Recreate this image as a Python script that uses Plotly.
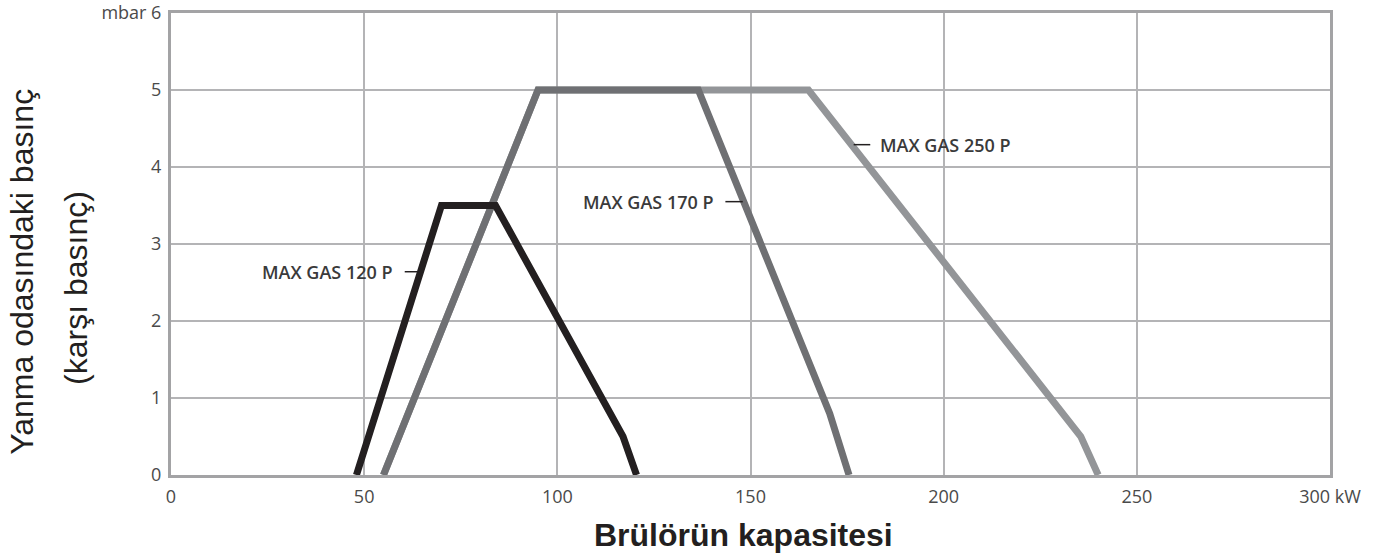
import plotly.graph_objects as go

# data
x_120 = [48, 70, 84, 117, 120.5]
y_120 = [0, 3.5, 3.5, 0.5, 0]
x_170 = [55, 95, 136.5, 170.5, 175.5]
y_170 = [0, 5, 5, 0.8, 0]
x_250 = [55, 95, 165, 235.5, 240]
y_250 = [0, 5, 5, 0.5, 0]

x_ticks = [0, 50, 100, 150, 200, 250, 300]
x_ticktext = ["0", "50", "100", "150", "200", "250", "300 kW"]
y_ticks = [0, 1, 2, 3, 4, 5, 6]
y_ticktext = ["0", "1", "2", "3", "4", "5", "mbar 6"]

labels = ["MAX GAS 120 P", "MAX GAS 170 P", "MAX GAS 250 P"]

fig = go.Figure()
fig.add_trace(go.Scatter(x=x_250, y=y_250, mode="lines",
                         line=dict(color="#939598", width=7), name=labels[2]))
fig.add_trace(go.Scatter(x=x_170, y=y_170, mode="lines",
                         line=dict(color="#6f7073", width=7), name=labels[1]))
fig.add_trace(go.Scatter(x=x_120, y=y_120, mode="lines",
                         line=dict(color="#231f20", width=7), name=labels[0]))

lab_font = dict(family="Open Sans", size=18, color="#3a3a3a", weight=600)
# label 120
fig.add_annotation(x=58, y=2.64, text=labels[0], showarrow=False, xanchor="right",
                   font=lab_font)
fig.add_shape(type="line", x0=60.5, x1=64, y0=2.64, y1=2.64, line=dict(color="#231f20", width=1.5))
# label 170
fig.add_annotation(x=141, y=3.55, text=labels[1], showarrow=False, xanchor="right",
                   font=lab_font)
fig.add_shape(type="line", x0=143.5, x1=148, y0=3.55, y1=3.55, line=dict(color="#231f20", width=1.5))
# label 250
fig.add_annotation(x=183, y=4.29, text=labels[2], showarrow=False, xanchor="left",
                   font=lab_font)
fig.add_shape(type="line", x0=176.7, x1=181, y0=4.29, y1=4.29, line=dict(color="#231f20", width=1.5))

title_font = dict(family="Liberation Sans", size=32, color="#231f20")
# y-axis title (two lines)
fig.add_annotation(xref="paper", yref="paper", x=(22 - 171) / 1159, y=0.44,
                   text="Yanma odasındaki basınç", textangle=-90, showarrow=False,
                   xanchor="center", yanchor="middle", font=title_font)
fig.add_annotation(xref="paper", yref="paper", x=(76 - 171) / 1159, y=0.405,
                   text="(karşı basınç)", textangle=-90, showarrow=False,
                   xanchor="center", yanchor="middle", font=title_font)
# x-axis title
fig.add_annotation(xref="paper", yref="paper", x=(743 - 171) / 1159, y=(475 - 535) / 462,
                   text="<b>Brülörün kapasitesi</b>", showarrow=False,
                   xanchor="center", yanchor="middle",
                   font=dict(family="Liberation Sans", size=32, color="#231f20"))

tick_font = dict(family="Open Sans", size=18, color="#4a4a4a")

fig.update_layout(
    width=1400, height=557,
    margin=dict(l=171, r=70, t=13, b=82, autoexpand=False),
    paper_bgcolor="white", plot_bgcolor="white",
    showlegend=False,
    font=dict(family="Open Sans", size=18, color="#4a4a4a"),
)
fig.update_xaxes(range=[0, 300], tickvals=x_ticks, ticktext=x_ticktext, tickfont=tick_font,
                 showgrid=True, gridcolor="#b4b4b6", gridwidth=1.5,
                 showline=True, linecolor="#a3a3a5", linewidth=3, mirror=True,
                 zeroline=False, ticks="", automargin=False, ticklabelstandoff=3)
fig.update_yaxes(range=[0, 6], tickvals=y_ticks, ticktext=y_ticktext, tickfont=tick_font,
                 showgrid=True, gridcolor="#b4b4b6", gridwidth=1.5,
                 showline=True, linecolor="#a3a3a5", linewidth=3, mirror=True,
                 zeroline=False, ticks="", automargin=False, ticklabelstandoff=3)

fig.write_html("out.html", config={"displayModeBar": False},
               post_script="document.body.style.margin='0';document.body.style.overflow='hidden';")
